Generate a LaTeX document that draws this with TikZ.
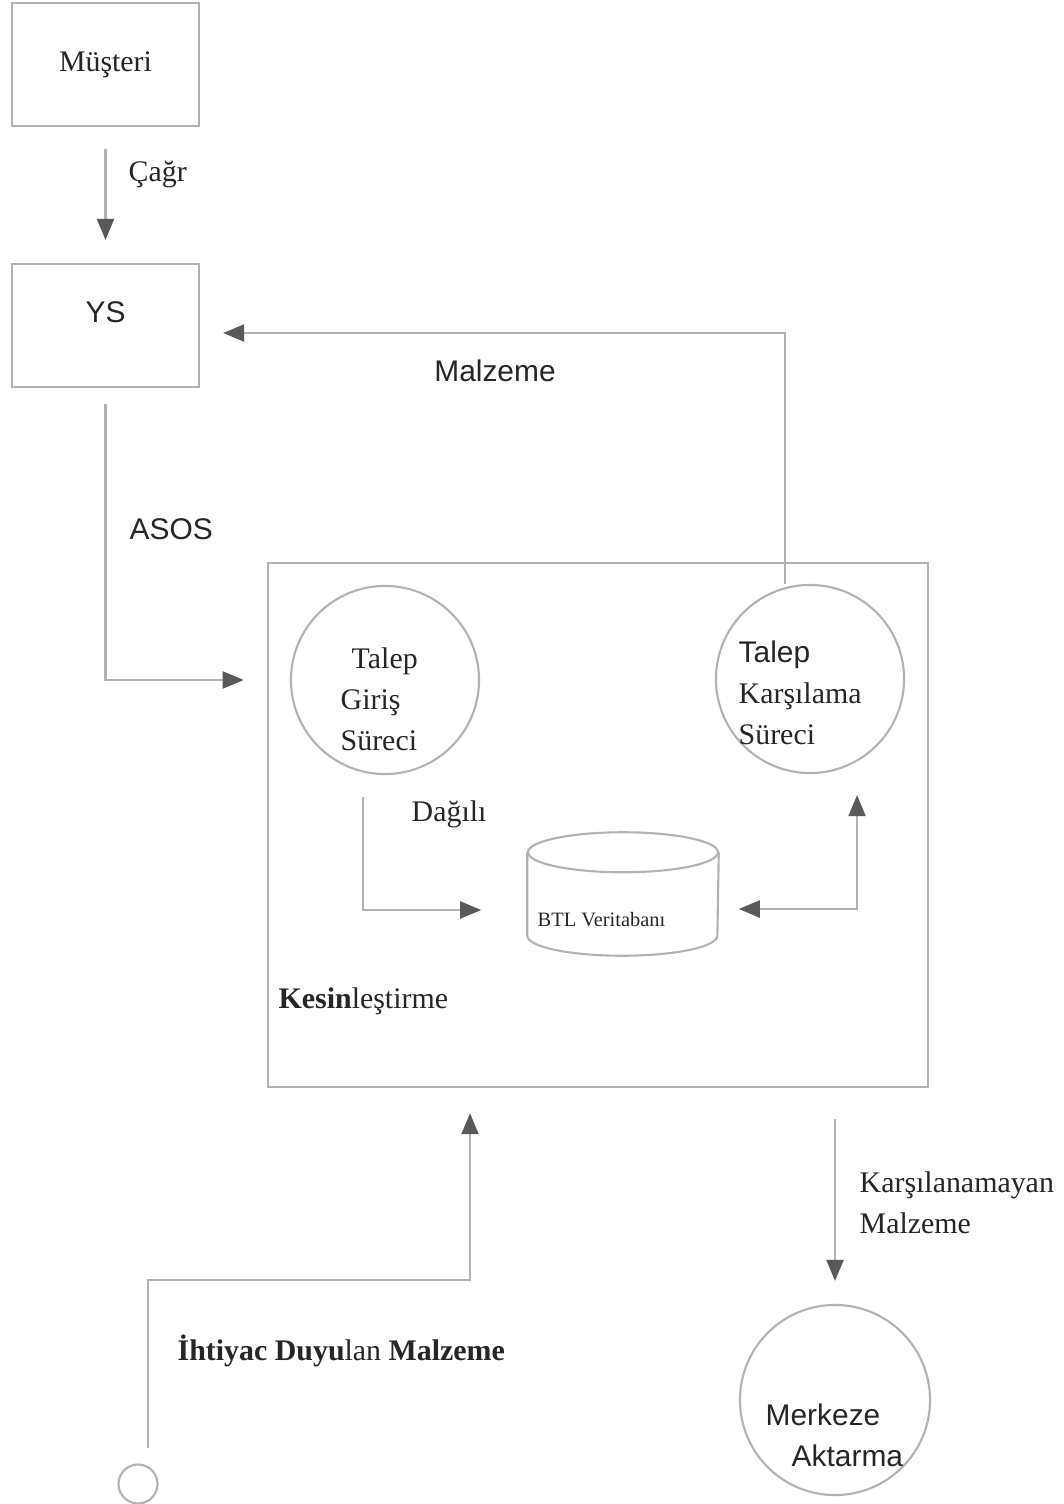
\documentclass[tikz,border=0pt]{standalone}
\usepackage{fontspec}
\setmainfont{Liberation Serif}
\setsansfont{Liberation Sans}
\usetikzlibrary{arrows.meta,shapes.geometric}
\definecolor{cizgi}{gray}{0.7}
\definecolor{uc}{gray}{0.35}
\definecolor{yazirengi}{gray}{0.15}
\tikzset{
  ucgen/.tip={Triangle[length=2.1mm,width=1.7mm,color=uc]},
  kutu/.style={draw=cizgi, line width=0.6pt, minimum width=1.87cm, minimum height=1.23cm},
  surec/.style={draw=cizgi, line width=0.6pt, circle, minimum size=1.88cm, inner sep=0pt},
  akis/.style={draw=cizgi, line width=0.6pt, -ucgen},
  yazi/.style={font=\fontsize{8.5}{11.7}\selectfont, text=yazirengi, inner sep=0pt},
  duzyazi/.style={yazi, font=\fontsize{8.5}{11.7}\selectfont\sffamily},
}

\begin{document}
\begin{tikzpicture}[x=0.01cm, y=-0.01cm]
		\useasboundingbox (0,0) rectangle (1063,1504);
		%%%%% START %%%%%
		\node[kutu, yazi] (musteri) at (105.5,64.5) {Müşteri};
		\node[kutu, duzyazi, text height=0.2cm, text depth=0.25cm] (ys) at (105.5,325.5) {YS};
		
		\node[kutu, minimum width=6.6cm, minimum height=5.24cm] (kesin) at (598,825) {};
		\node[surec] (giris) at (385,680) {};
		\node[surec] (karsilama) at (810,679) {};
		\node[surec, minimum size=1.9cm] (merkez) at (835,1400) {};
		\node[draw=cizgi, line width=0.6pt, circle, minimum size=0.39cm, inner sep=0pt] (kaynak) at (138,1484) {};
		
		% veritabani silindiri
		\node[minimum width=1.9cm, minimum height=1.22cm, inner sep=0pt] (btl) at (623,894) {};
		\draw[cizgi, line width=0.6pt] ([yshift=-0.2cm]btl.north west) -- ([yshift=0.2cm]btl.south west)
		      arc[start angle=180, end angle=360, x radius=0.95cm, y radius=0.2cm] -- ([yshift=-0.2cm]btl.north east);
		\draw[cizgi, line width=0.6pt] ([yshift=-0.2cm]btl.north) ellipse[x radius=0.95cm, y radius=0.2cm];
		
		\node[yazi, align=left, anchor=north west] (girisyazi) at (340,647) {\hspace*{1.1mm}Talep\\Giriş\\Süreci};
		\node[yazi, align=left, anchor=north west] (karsilamayazi) at (738,640) {{\sffamily Talep}\\Karşılama\\Süreci};
		\node[duzyazi, align=left, anchor=north west] (merkezyazi) at (765,1403) {Merkeze\\\hspace*{0.26cm}Aktarma};
		\node[yazi, anchor=base west, font=\fontsize{5.8}{7}\selectfont] (btlyazi) at (537,926) {BTL Veritabanı};
		
		% akislar
		\draw[akis, shorten <=0.22cm, shorten >=0.23cm] (musteri) -- (ys);
		\draw[akis, shorten >=0.23cm] ([xshift=-0.25cm]karsilama.north) |- ([yshift=-0.075cm]ys.east);
		\draw[akis, shorten <=0.16cm, shorten >=0.23cm] (ys.south) |- (kesin.west |- giris);
		\draw[akis, shorten >=0.46cm] ([xshift=-0.22cm,yshift=-0.22cm]giris.south) |- ([yshift=-0.16cm]btl.west);
		\draw[akis, ucgen-ucgen, shorten <=0.2cm] ([yshift=-0.15cm]btl.east) -| ([xshift=0.47cm,yshift=-0.21cm]karsilama.south);
		\coordinate (ihtiyackose) at (470,1280);
		\draw[akis, shorten >=0.25cm] ([xshift=0.1cm,yshift=0.15cm]kaynak.north) |- (ihtiyackose) -- (ihtiyackose |- kesin.south);
		\draw[akis, shorten <=0.31cm, shorten >=0.23cm] (kesin.south -| merkez.north) -- (merkez.north);
		
		% etiketler
		\node[yazi, anchor=base west] (cagr) at (128,182) {Çağr};
		\node[duzyazi, anchor=base] (malzeme) at (495,382) {Malzeme};
		\node[duzyazi, anchor=base west] (asos) at (129,540) {ASOS};
		\node[yazi, anchor=base west] (dagili) at (411,821) {Dağılı};
		\node[yazi, anchor=base west] (kesinyazi) at (278,1008) {\textbf{Kesin}leştirme};
		\node[yazi, align=left, anchor=north west] (karsilanamayan) at (859,1171) {Karşılanamayan\\Malzeme};
		\node[yazi, anchor=base west] (ihtiyac) at (177,1360) {\textbf{İhtiyac Duyu}lan \textbf{Malzeme}};
		%%%%% END %%%%%
	\end{tikzpicture}
\end{document}
